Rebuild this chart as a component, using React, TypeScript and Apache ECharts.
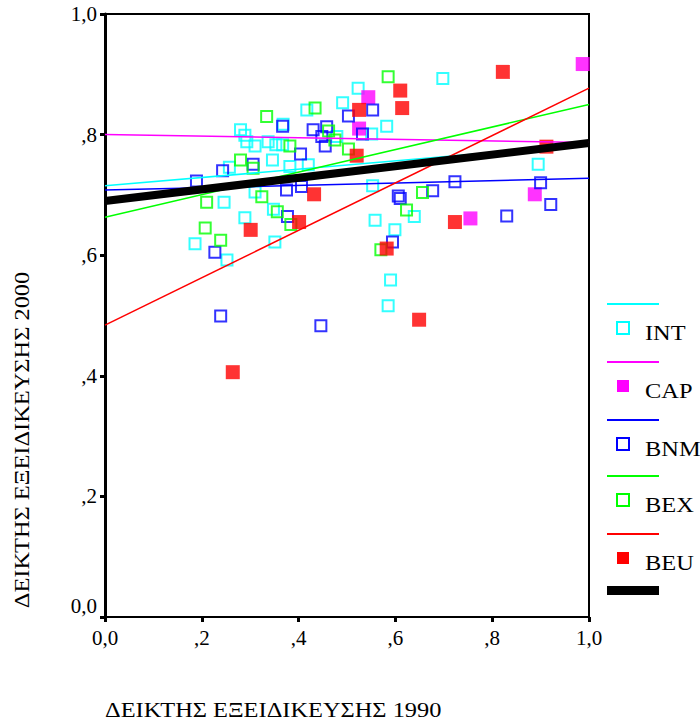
import React, { useEffect, useRef } from "react";
import * as echarts from "echarts";

const X_TICKS = ["0,0", ",2", ",4", ",6", ",8", "1,0"];
const Y_TICKS = ["0,0", ",2", ",4", ",6", ",8", "1,0"];
const GROUPS = ["INT", "CAP", "BNM", "BEX", "BEU"];

const INT_POINTS: number[][] = [
  [0.491, 0.853], [0.417, 0.841], [0.368, 0.817], [0.28, 0.808], [0.289, 0.799],
  [0.293, 0.788], [0.31, 0.781], [0.337, 0.788], [0.353, 0.783], [0.367, 0.783],
  [0.346, 0.758], [0.257, 0.746], [0.382, 0.747], [0.42, 0.75], [0.523, 0.877],
  [0.479, 0.797], [0.582, 0.814], [0.551, 0.801], [0.246, 0.688], [0.31, 0.705],
  [0.289, 0.662], [0.348, 0.676], [0.186, 0.619], [0.252, 0.592], [0.351, 0.622],
  [0.553, 0.715], [0.639, 0.664], [0.558, 0.658], [0.599, 0.642], [0.59, 0.559],
  [0.585, 0.516], [0.698, 0.893], [0.895, 0.751],
];
const CAP_POINTS: number[][] = [
  [0.987, 0.917], [0.544, 0.862], [0.525, 0.81], [0.888, 0.701], [0.755, 0.661],
];
const BNM_POINTS: number[][] = [
  [0.367, 0.814], [0.306, 0.751], [0.243, 0.74], [0.503, 0.831], [0.553, 0.841],
  [0.43, 0.808], [0.458, 0.813], [0.448, 0.797], [0.532, 0.801], [0.404, 0.768],
  [0.455, 0.781], [0.189, 0.723], [0.375, 0.708], [0.377, 0.664], [0.227, 0.605],
  [0.406, 0.714], [0.61, 0.694], [0.606, 0.698], [0.594, 0.622], [0.677, 0.707],
  [0.723, 0.722], [0.9, 0.72], [0.921, 0.684], [0.83, 0.665], [0.239, 0.499],
  [0.446, 0.483],
];
const BEX_POINTS: number[][] = [
  [0.334, 0.83], [0.382, 0.781], [0.28, 0.758], [0.306, 0.744], [0.585, 0.896],
  [0.434, 0.844], [0.462, 0.806], [0.475, 0.791], [0.503, 0.776], [0.21, 0.688],
  [0.324, 0.697], [0.356, 0.672], [0.384, 0.651], [0.207, 0.645], [0.239, 0.625],
  [0.623, 0.675], [0.656, 0.704], [0.57, 0.609],
];
const BEU_POINTS: number[][] = [
  [0.822, 0.904], [0.61, 0.873], [0.614, 0.844], [0.525, 0.841], [0.52, 0.765],
  [0.912, 0.78], [0.432, 0.701], [0.401, 0.655], [0.301, 0.642], [0.582, 0.611],
  [0.723, 0.655], [0.649, 0.493], [0.264, 0.406],
];

// regression lines: value at x=0 and at x=1
const FIT_START = [0.715, 0.8, 0.708, 0.663, 0.484];
const FIT_END = [0.784, 0.787, 0.7275, 0.85, 0.877];
const TOTAL_FIT = [0.69, 0.786];

const COLORS = ["#00ffff", "#ff00ff", "#0000ff", "#00ff00", "#ff0000"];
const FILLED = [false, true, false, false, true];
const POINTS = [INT_POINTS, CAP_POINTS, BNM_POINTS, BEX_POINTS, BEU_POINTS];

const FONT = '"Liberation Serif", "Times New Roman", serif';
const STRETCH = 1.22;

export default function App() {
  const ref = useRef<HTMLDivElement>(null);
  useEffect(() => {
    if (!ref.current) return;
    const chart = echarts.init(ref.current, null, { renderer: "svg" });

    const scatterSeries = POINTS.map((pts, i) => ({
      name: GROUPS[i],
      type: "scatter",
      data: pts,
      symbol: "rect",
      symbolSize: FILLED[i] ? 14 : 11,
      z: 2,
      itemStyle: FILLED[i]
        ? { color: COLORS[i], borderWidth: 0 }
        : { color: "rgba(0,0,0,0)", borderColor: COLORS[i], borderWidth: 2 },
    }));

    const fitSeries = GROUPS.map((g, i) => ({
      name: g + " fit",
      type: "line",
      data: [[0, FIT_START[i]], [1, FIT_END[i]]],
      symbol: "none",
      z: 3,
      lineStyle: { color: COLORS[i], width: 1.5 },
    }));

    const totalSeries = {
      name: "Total",
      type: "line",
      data: [[0, TOTAL_FIT[0]], [1, TOTAL_FIT[1]]],
      symbol: "none",
      z: 4,
      lineStyle: { color: "#000", width: 8 },
    };

    const legendY = [304, 362, 420, 476, 534];
    const legend: any[] = [];
    GROUPS.forEach((g, i) => {
      const ly = legendY[i];
      legend.push({
        type: "line",
        shape: { x1: 607, y1: ly, x2: 659, y2: ly },
        style: { stroke: COLORS[i], lineWidth: 2 },
      });
      legend.push({
        type: "rect",
        shape: { x: 617, y: ly + 18, width: 12, height: 12 },
        style: FILLED[i]
          ? { fill: COLORS[i], stroke: null }
          : { fill: "none", stroke: COLORS[i], lineWidth: 2 },
      });
      legend.push({
        type: "text",
        x: 645,
        y: ly + 29,
        scaleX: STRETCH,
        style: {
          text: g,
          font: `20px ${FONT}`,
          fill: "#000",
          textAlign: "left",
          textVerticalAlign: "middle",
        },
      });
    });
    legend.push({
      type: "rect",
      shape: { x: 607, y: 586, width: 52, height: 9 },
      style: { fill: "#000" },
    });

    chart.setOption({
      animation: false,
      backgroundColor: "#fff",
      grid: {
        left: 105,
        right: 111,
        top: 14,
        bottom: 107,
        show: true,
        borderColor: "#000",
        borderWidth: 2,
        backgroundColor: "rgba(0,0,0,0)",
      },
      xAxis: {
        type: "value",
        min: 0,
        max: 1,
        interval: 0.2,
        axisLine: { show: true, lineStyle: { color: "#000", width: 2 } },
        axisTick: { show: true, length: 5, lineStyle: { color: "#000", width: 3 } },
        splitLine: { show: false },
        axisLabel: {
          color: "#000",
          fontFamily: FONT,
          fontSize: 21,
          margin: 10,
          formatter: (v: number) => X_TICKS[Math.round(v * 5)],
        },
      },
      yAxis: {
        type: "value",
        min: 0,
        max: 1,
        interval: 0.2,
        axisLine: { show: true, lineStyle: { color: "#000", width: 3 } },
        axisTick: { show: true, length: 5, lineStyle: { color: "#000", width: 3 } },
        splitLine: { show: false },
        axisLabel: {
          color: "#000",
          fontFamily: FONT,
          fontSize: 21,
          margin: 8,
          formatter: (v: number) => {
            const i = Math.round(v * 5);
            return i === 0 ? "{z|" + Y_TICKS[i] + "}" : Y_TICKS[i];
          },
          rich: {
            z: {
              fontFamily: FONT,
              fontSize: 21,
              color: "#000",
              padding: [0, 0, 22, 0],
            },
          },
        },
      },
      graphic: [
        ...legend,
        {
          type: "text",
          x: 105,
          y: 710,
          scaleX: STRETCH,
          style: {
            text: "ΔΕΙΚΤΗΣ ΕΞΕΙΔΙΚΕΥΣΗΣ 1990",
            font: `20px ${FONT}`,
            fill: "#000",
            textAlign: "left",
            textVerticalAlign: "middle",
          },
        },
        {
          type: "text",
          x: 22,
          y: 440,
          rotation: Math.PI / 2,
          scaleX: STRETCH,
          style: {
            text: "ΔΕΙΚΤΗΣ ΕΞΕΙΔΙΚΕΥΣΗΣ 2000",
            font: `20px ${FONT}`,
            fill: "#000",
            textAlign: "center",
            textVerticalAlign: "middle",
          },
        },
      ],
      series: [...scatterSeries, ...fitSeries, totalSeries],
    });
    return () => chart.dispose();
  }, []);
  return (
    <div
      ref={ref}
      style={{ position: "fixed", left: 0, top: 0, width: 700, height: 724 }}
    />
  );
}
